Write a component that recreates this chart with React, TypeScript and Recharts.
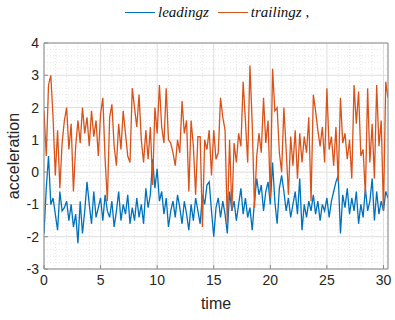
import React from "react";
import { LineChart, Line, XAxis, YAxis, CartesianGrid, ReferenceLine } from "recharts";

const time = [
  0, 0.2, 0.4, 0.6, 0.8, 1, 1.2, 1.4, 1.6, 1.8, 2, 2.2, 2.4, 2.6, 2.8, 3, 3.2, 3.4, 3.6, 3.8,
  4, 4.2, 4.4, 4.6, 4.8, 5, 5.2, 5.4, 5.6, 5.8, 6, 6.2, 6.4, 6.6, 6.8, 7, 7.2, 7.4, 7.6, 7.8,
  8, 8.2, 8.4, 8.6, 8.8, 9, 9.2, 9.4, 9.6, 9.8, 10, 10.2, 10.4, 10.6, 10.8, 11, 11.2, 11.4, 11.6, 11.8,
  12, 12.2, 12.4, 12.6, 12.8, 13, 13.2, 13.4, 13.6, 13.8, 14, 14.2, 14.4, 14.6, 14.8, 15, 15.2, 15.4, 15.6, 15.8,
  16, 16.2, 16.4, 16.6, 16.8, 17, 17.2, 17.4, 17.6, 17.8, 18, 18.2, 18.4, 18.6, 18.8, 19, 19.2, 19.4, 19.6, 19.8,
  20, 20.2, 20.4, 20.6, 20.8, 21, 21.2, 21.4, 21.6, 21.8, 22, 22.2, 22.4, 22.6, 22.8, 23, 23.2, 23.4, 23.6, 23.8,
  24, 24.2, 24.4, 24.6, 24.8, 25, 25.2, 25.4, 25.6, 25.8, 26, 26.2, 26.4, 26.6, 26.8, 27, 27.2, 27.4, 27.6, 27.8,
  28, 28.2, 28.4, 28.6, 28.8, 29, 29.2, 29.4, 29.6, 29.8, 30, 30.2, 30.4,
];

const trailingz = [
  1.9, 0.5, 2.7, 3.0, 1.7, -0.1, 1.3, -0.5, 0.9, 1.6, 2.0, 0.7, 1.5, -0.6, 0.8, 1.6, 0.9, 2.0, 1.2, 1.7,
  0.8, 1.9, 1.1, 1.6, 0.5, 1.8, 2.3, 0.4, -0.9, 1.7, 2.1, 0.8, 0.2, 1.5, 0.7, 1.9, 1.2, 0.5, 0.3, 2.6,
  2.0, 1.4, 2.4, 1.0, 0.3, 1.3, 0.4, 1.4, -0.4, 2.0, 1.2, 2.7, 1.4, 0.9, 2.6, 1.0, 0.9, 0.6, 0.2, 1.0,
  0.6, 2.2, 1.2, 1.6, -0.6, 1.6, 0.8, -0.7, 1.1, 1.1, -1.7, 1.0, 0.7, 1.3, -0.1, 1.3, 0.4, 0.6, 2.3, 1.7,
  1.3, -1.6, 1.0, -1.2, 0.9, 0.3, 1.2, 0.8, 2.8, 1.6, 0.3, 3.3, 1.5, -1.1, 0.5, 1.2, 0.6, 2.3, 0.9, 1.6,
  -0.8, 3.2, 1.9, 2.0, 0.6, 0.0, 2.0, 0.7, -0.7, 1.1, 0.2, 1.3, -0.2, 1.2, 0.3, 1.1, 0.6, 1.7, -0.9, 2.4,
  1.9, 1.3, 0.8, 1.4, 0.3, 2.6, 0.7, 1.1, 0.2, 1.4, -0.3, 2.3, 0.9, 1.2, 0.4, 1.0, -0.2, 2.7, 1.5, 2.5,
  0.5, 0.7, -0.7, 2.6, 0.3, 1.5, -0.2, 2.7, 0.8, 1.6, -1.2, 2.8, 2.3,
];

const leadingz = [
  -1.9, -0.5, 0.5, -1.0, -0.8, -1.3, -1.8, -0.6, -1.2, -1.1, -0.9, -1.5, -1.0, -1.7, -1.3, -2.2, -0.9, -1.9, -1.2, -0.3,
  -1.0, -1.6, -0.6, -1.4, -1.1, -0.8, -1.5, -0.7, -1.2, -1.4, -0.9, -1.7, -1.2, -0.6, -1.5, -1.0, -1.3, -0.7, -1.6, -1.1,
  -1.5, -0.8, -1.4, -1.0, -1.6, -0.5, -1.1, -0.7, 0.4, -0.5, 0.1, -0.9, -0.6, -1.3, -0.8, -1.7, -1.2, -0.9, -1.4, -0.7,
  -1.1, -1.6, -0.9, -1.3, -1.8, -1.0, -1.5, -0.8, -1.2, -1.6, -0.7, -1.0, -0.4, -0.3, -1.2, -2.0, -1.1, -0.8, -1.4, -0.9,
  -1.3, -1.9, -0.6, -1.2, -0.9, -1.5, -1.0, -0.5, -1.3, -0.8, -1.4, -1.1, -1.8, -0.9, -0.2, -0.7, -0.4, -1.2, -0.6, -0.3,
  -1.0, 0.3, -0.9, -1.6, -0.5, -0.1, -0.6, -1.2, -0.8, -1.4, -1.0, -0.6, -1.3, -0.2, -1.8, -1.0, -1.4, -0.9, -1.2, -0.7,
  -1.3, -0.9, -1.5, -1.0, -1.2, -0.8, -1.4, -0.9, -0.6, -0.3, -0.1, -1.9, -0.7, -1.1, -0.5, -1.3, -0.8, -1.2, -0.6, -1.6,
  -1.0, -1.4, -0.5, -1.2, -0.9, -0.2, -1.5, -0.6, -1.3, -0.9, -1.2, -0.6, -0.8,
];

const xTicks = [0, 5, 10, 15, 20, 25, 30];
const yTicks = [-3, -2, -1, 0, 1, 2, 3, 4];
const xMinor = [1, 2, 3, 4, 6, 7, 8, 9, 11, 12, 13, 14, 16, 17, 18, 19, 21, 22, 23, 24, 26, 27, 28, 29];
const yMinor = [
  -2.8, -2.6, -2.4, -2.2, -1.8, -1.6, -1.4, -1.2, -0.8, -0.6, -0.4, -0.2,
  0.2, 0.4, 0.6, 0.8, 1.2, 1.4, 1.6, 1.8, 2.2, 2.4, 2.6, 2.8, 3.2, 3.4, 3.6, 3.8,
];

const data = time.map((t, i) => ({ t, leadingz: leadingz[i], trailingz: trailingz[i] }));

const BLUE = "#0072BD";
const ORANGE = "#D95319";
const AXIS = "#8c8c8c";
const SANS = "Liberation Sans, Arial, sans-serif";
const tickStyle = { fontSize: 14, fill: "#262626", fontFamily: SANS };

function Swatch({ color, ml }: { color: string; ml: number }) {
  return (
    <span
      style={{ display: "inline-block", width: 30, height: 1.5, background: color, marginLeft: ml, marginRight: 3 }}
    />
  );
}

export default function App() {
  return (
    <div style={{ position: "fixed", left: 0, top: 0, width: 395, height: 320, background: "#fff" }}>
      <div
        style={{
          position: "absolute",
          top: 4,
          left: 125,
          display: "flex",
          alignItems: "center",
          fontFamily: "Liberation Serif, Times New Roman, serif",
          fontStyle: "italic",
          fontSize: 15,
          color: "#111",
          whiteSpace: "nowrap",
        }}
      >
        <Swatch color={BLUE} ml={0} />
        <span>leadingz</span>
        <Swatch color={ORANGE} ml={9} />
        <span>trailingz ,</span>
      </div>
      <div
        style={{
          position: "absolute",
          left: 14,
          top: 156,
          transform: "translate(-50%, -50%) rotate(-90deg)",
          fontFamily: SANS,
          fontSize: 16,
          color: "#262626",
          whiteSpace: "nowrap",
        }}
      >
        acceleration
      </div>
      <div
        style={{
          position: "absolute",
          left: 216,
          top: 304,
          transform: "translate(-50%, -50%)",
          fontFamily: SANS,
          fontSize: 16,
          color: "#262626",
        }}
      >
        time
      </div>
      <LineChart width={395} height={320} data={data} margin={{ top: 42, right: 6, bottom: 21, left: 0 }}>
        <CartesianGrid stroke="#dedede" />
        {xMinor.map((v) => (
          <ReferenceLine key={`x${v}`} x={v} stroke="#e4e4e4" strokeDasharray="1 2" zIndex={-50} />
        ))}
        {yMinor.map((v) => (
          <ReferenceLine key={`y${v}`} y={v} stroke="#e4e4e4" strokeDasharray="1 2" zIndex={-50} />
        ))}
        <XAxis
          dataKey="t"
          type="number"
          domain={[0, 30.4]}
          ticks={xTicks}
          allowDataOverflow
          height={30}
          stroke={AXIS}
          tickSize={-4}
          tickMargin={10}
          tick={tickStyle}
        />
        <XAxis
          xAxisId="top"
          orientation="top"
          type="number"
          domain={[0, 30.4]}
          ticks={xTicks}
          height={1}
          stroke={AXIS}
          tickSize={-4}
          tick={false}
        />
        <YAxis
          type="number"
          domain={[-3, 4]}
          ticks={yTicks}
          width={44}
          stroke={AXIS}
          tickSize={-4}
          tickMargin={9}
          tick={tickStyle}
        />
        <YAxis
          yAxisId="right"
          orientation="right"
          type="number"
          domain={[-3, 4]}
          ticks={yTicks}
          width={1}
          stroke={AXIS}
          tickSize={-4}
          tick={false}
        />
        <Line dataKey="leadingz" stroke={BLUE} strokeWidth={1.3} dot={false} isAnimationActive={false} />
        <Line dataKey="trailingz" stroke={ORANGE} strokeWidth={1.3} dot={false} isAnimationActive={false} />
      </LineChart>
    </div>
  );
}
